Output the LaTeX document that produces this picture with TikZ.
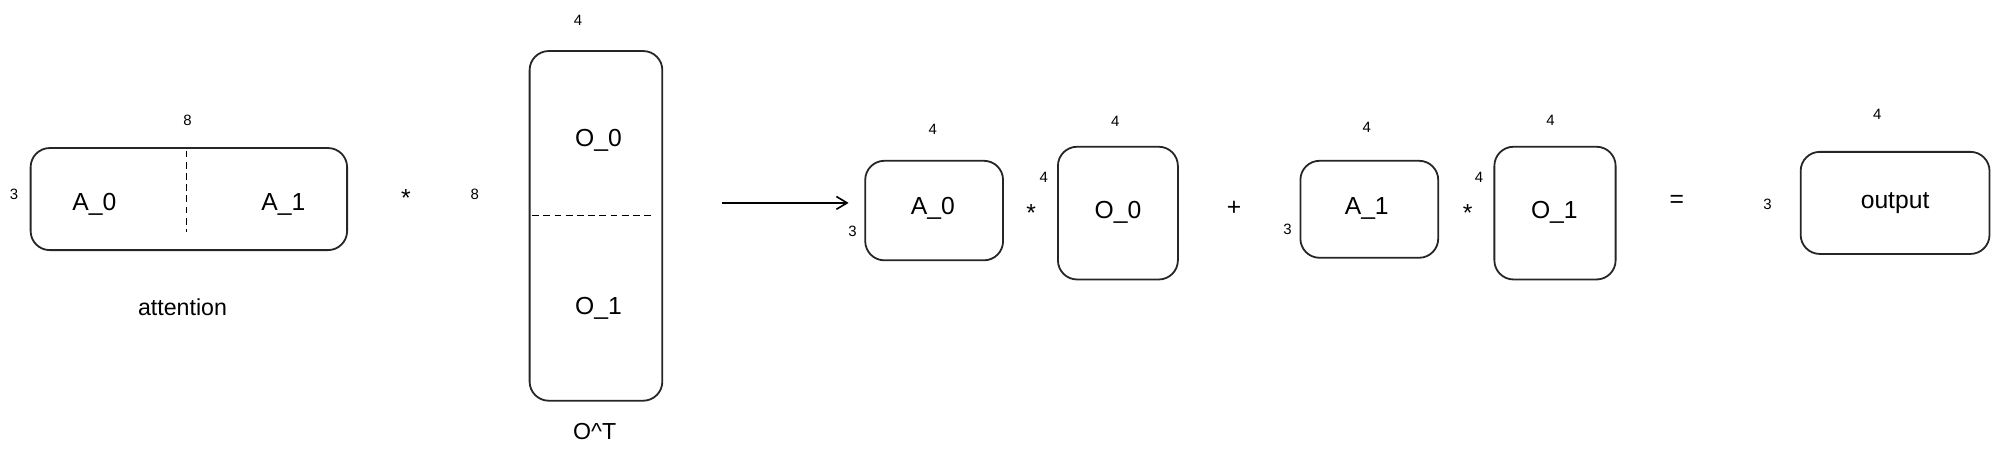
\documentclass[tikz,border=0pt]{standalone}
\usepackage{fontspec}
\setmainfont{Liberation Sans}
\usetikzlibrary{arrows.meta}
\begin{document}
\begin{tikzpicture}[x=0.6mm,y=-0.6mm,
  box/.style={draw=black!85,line width=2.4pt,rounded corners=9mm},
  dsh/.style={line width=2pt,dash pattern=on 9pt off 6pt},
  big/.style={font=\fontsize{33}{38}\selectfont},
  small/.style={font=\fontsize{20}{24}\selectfont},
  lbl/.style={font=\fontsize{31}{36}\selectfont}]
\useasboundingbox[fill=white] (0,0) rectangle (1568,358.9);
% attention
\draw[box] (24,116) rectangle (272,196);
\draw[dsh] (146,118) -- (146,182);
\node[big] (a0) at (74,160) {A\_0};
\node[big] (a1) at (222,160) {A\_1};
\node[small] (n8a) at (147,94) {8};
\node[small] (n3a) at (11,152) {3};
\node[lbl] (att) at (143,241) {attention};
\node[big] (m1) at (318,155) {*};
\node[small] (n8b) at (372,152) {8};
% O^T
\draw[box] (415,40) rectangle (519,314);
\draw[dsh] (417,169) -- (511,169);
\node[big] (o0) at (469,110) {O\_0};
\node[big] (o1) at (469,242) {O\_1};
\node[small] (n4a) at (453,16) {4};
\node[lbl] (ot) at (466,338) {O\^{}T};
% arrow
\coordinate (as) at (566,159); \coordinate (ae) at (665,159);
\draw[line width=2.2pt,-{Straight Barb[length=5mm,width=6mm]}] (as) -- (ae);
% A_0 * O_0
\draw[box] (678,126) rectangle (786,204);
\node[big] (b0) at (731,163) {A\_0};
\node[small] at (731,101) {4};
\node[small] at (668,181) {3};
\node[big] at (808,167) {*};
\node[small] at (818,139) {4};
\draw[box] (829,115) rectangle (923,219);
\node[big] (p0) at (876,166) {O\_0};
\node[small] at (874,95) {4};
\node[big] at (967,163) {+};
% A_1 * O_1
\draw[box] (1019,126) rectangle (1127,202);
\node[big] (b1) at (1071,163) {A\_1};
\node[small] at (1071,100) {4};
\node[small] at (1009,180) {3};
\node[big] at (1150,167) {*};
\node[small] at (1159,139) {4};
\draw[box] (1171,115) rectangle (1266,219);
\node[big] (p1) at (1218,166) {O\_1};
\node[small] at (1215,94) {4};
\node[big] at (1314,158) {=};
\node[small] at (1385,160) {3};
\draw[box] (1411,119) rectangle (1559,199);
\node[big] (out) at (1485,159) {output};
\node[small] at (1471,90) {4};
\end{tikzpicture}
\end{document}
